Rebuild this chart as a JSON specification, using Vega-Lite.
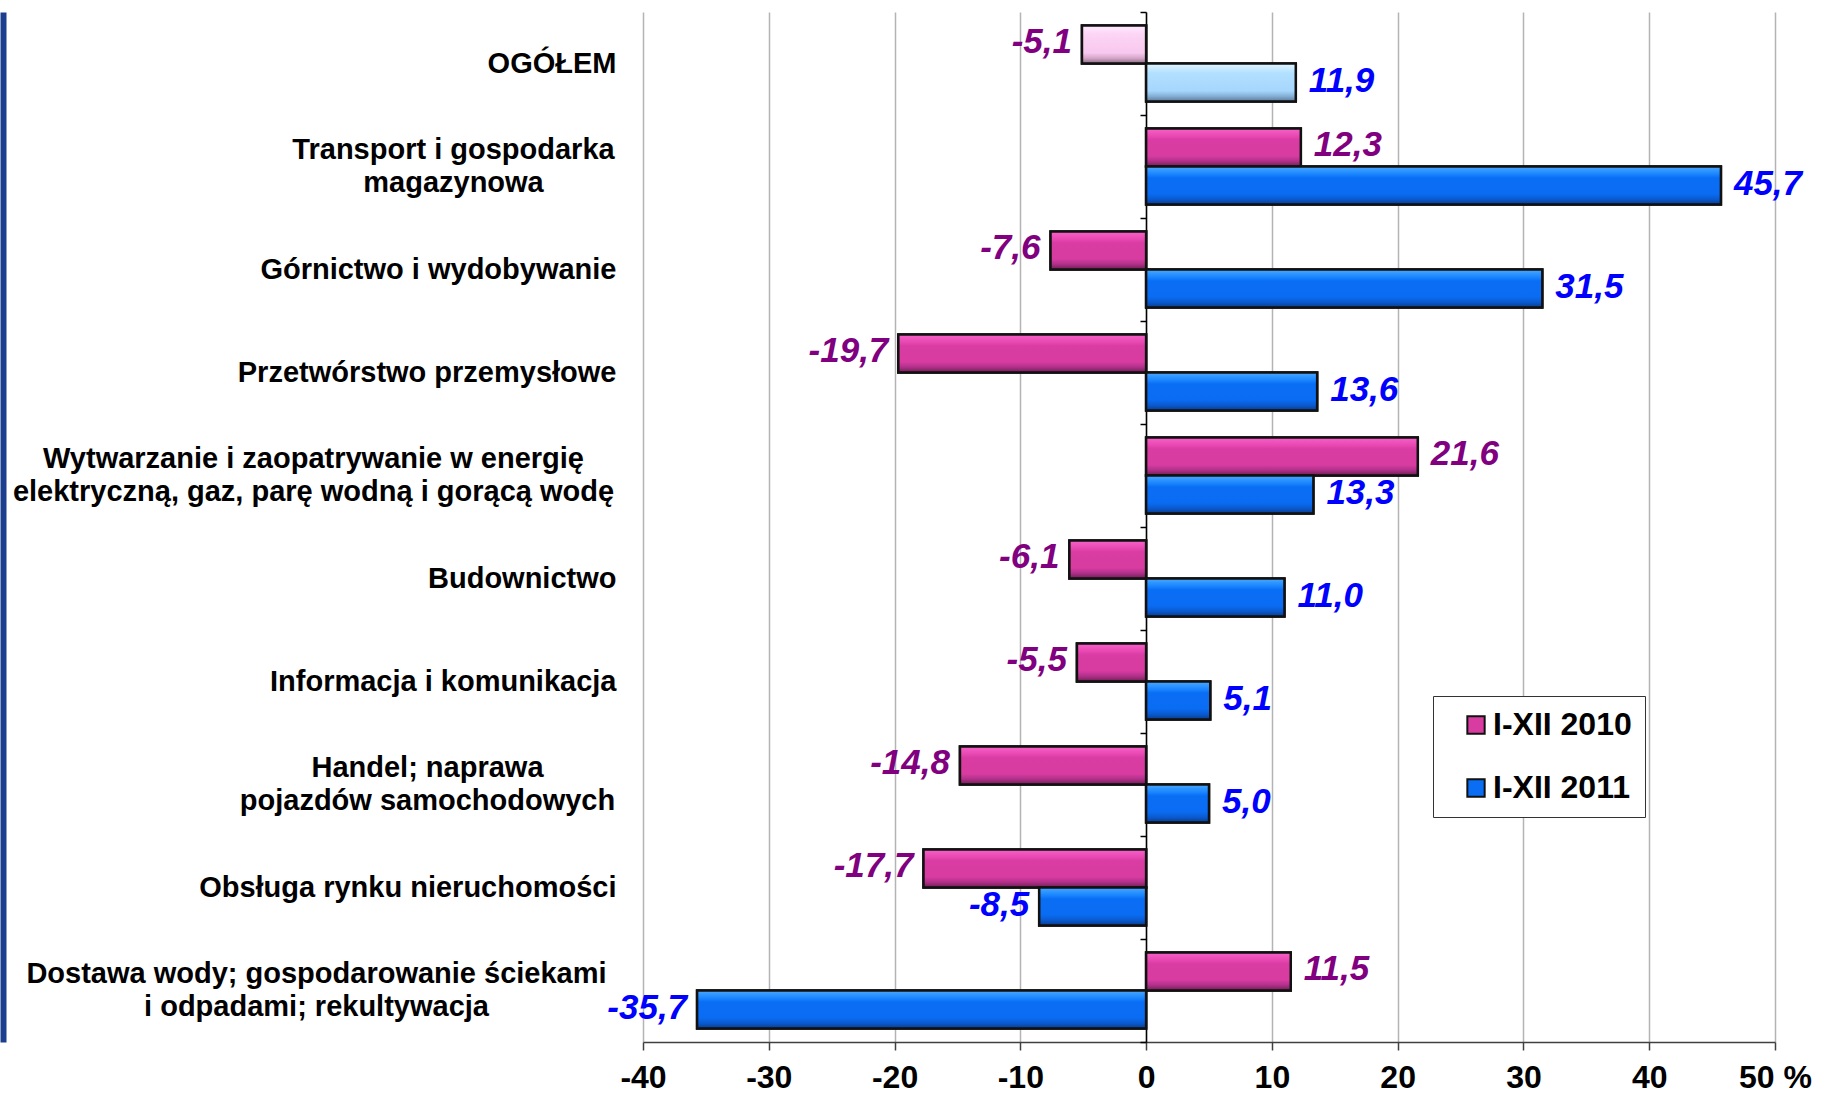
{
  "$schema": "https://vega.github.io/schema/vega-lite/v6.json",
  "autosize": {"type": "none"},
  "width": 1132,
  "height": 1030,
  "padding": {"left": 643, "top": 12, "right": 54, "bottom": 52},
  "background": "#ffffff",
  "config": {"view": {"stroke": null}, "font": "Liberation Sans"},
  "data": {"values": [
    {"cat": "OGÓŁEM", "series": "I-XII 2010", "value": -5.1},
    {"cat": "OGÓŁEM", "series": "I-XII 2011", "value": 11.9},
    {"cat": "Transport i gospodarka|magazynowa", "series": "I-XII 2010", "value": 12.3},
    {"cat": "Transport i gospodarka|magazynowa", "series": "I-XII 2011", "value": 45.7},
    {"cat": "Górnictwo i wydobywanie", "series": "I-XII 2010", "value": -7.6},
    {"cat": "Górnictwo i wydobywanie", "series": "I-XII 2011", "value": 31.5},
    {"cat": "Przetwórstwo przemysłowe", "series": "I-XII 2010", "value": -19.7},
    {"cat": "Przetwórstwo przemysłowe", "series": "I-XII 2011", "value": 13.6},
    {"cat": "Wytwarzanie i zaopatrywanie w energię|elektryczną, gaz, parę wodną i gorącą wodę", "series": "I-XII 2010", "value": 21.6},
    {"cat": "Wytwarzanie i zaopatrywanie w energię|elektryczną, gaz, parę wodną i gorącą wodę", "series": "I-XII 2011", "value": 13.3},
    {"cat": "Budownictwo", "series": "I-XII 2010", "value": -6.1},
    {"cat": "Budownictwo", "series": "I-XII 2011", "value": 11.0},
    {"cat": "Informacja i komunikacja", "series": "I-XII 2010", "value": -5.5},
    {"cat": "Informacja i komunikacja", "series": "I-XII 2011", "value": 5.1},
    {"cat": "Handel; naprawa|pojazdów samochodowych", "series": "I-XII 2010", "value": -14.8},
    {"cat": "Handel; naprawa|pojazdów samochodowych", "series": "I-XII 2011", "value": 5.0},
    {"cat": "Obsługa rynku nieruchomości", "series": "I-XII 2010", "value": -17.7},
    {"cat": "Obsługa rynku nieruchomości", "series": "I-XII 2011", "value": -8.5},
    {"cat": "Dostawa wody; gospodarowanie ściekami|i odpadami; rekultywacja", "series": "I-XII 2010", "value": 11.5},
    {"cat": "Dostawa wody; gospodarowanie ściekami|i odpadami; rekultywacja", "series": "I-XII 2011", "value": -35.7}
  ]},
  "transform": [
    {"calculate": "replace(replace(format(datum.value, '.1f'), '.', ','), '\u2212', '-')", "as": "lbl"}
  ],
  "encoding": {
    "x": {"field": "value", "type": "quantitative",
      "scale": {"domain": [-40, 50], "nice": false, "zero": false},
      "axis": {"values": [-40, -30, -20, -10, 0, 10, 20, 30, 40, 50], "title": null, "orient": "bottom",
        "grid": true, "gridColor": "#b4b4b4", "gridWidth": 1.5,
        "domain": true, "domainColor": "#404040", "domainWidth": 1.5,
        "ticks": true, "tickColor": "#404040", "tickSize": 8, "tickWidth": 1.5,
        "labels": true, "labelFont": "Liberation Sans", "labelFontWeight": "bold", "labelFontSize": 32, "labelColor": "#000000",
        "labelPadding": 12, "labelFlush": false, "labelOverlap": false,
        "labelExpr": "datum.value == 50 ? '50 %' : '' + datum.value"}},
    "yOffset": {"field": "series", "type": "nominal",
      "scale": {"domain": ["I-XII 2010", "I-XII 2011"], "paddingInner": 0, "paddingOuter": 0.355}}
  },
  "resolve": {"axis": {"y": "independent"}},
  "layer": [
    {
      "mark": {"type": "bar", "stroke": "#111111", "strokeWidth": 2.5},
      "encoding": {
        "y": {"field": "cat", "type": "nominal", "sort": null,
          "scale": {"paddingInner": 0, "paddingOuter": 0},
          "axis": {"orient": "left", "offset": 640, "title": null, "grid": false,
            "domain": true, "domainColor": "#1b3e8e", "domainWidth": 6,
            "ticks": false, "tickSize": 0,
            "labelFont": "Liberation Sans", "labelFontWeight": "bold", "labelFontSize": 29, "labelColor": "#000000",
            "labelLineHeight": 33, "labelLimit": 0, "labelOverlap": false,
            "labelExpr": "split(datum.label, '|')",
            "labelAlign": {"condition": {"test": "indexof(datum.value, '|') >= 0", "value": "center"}, "value": "right"},
            "labelOffset": {"condition": {"test": "indexof(datum.value, '|') >= 0", "value": -16.5}, "value": 0},
            "labelPadding": {"condition": [
              {"test": "datum.value == 'Transport i gospodarka|magazynowa'", "value": -450},
              {"test": "indexof(datum.value, 'Wytwarzanie') == 0", "value": -310},
              {"test": "indexof(datum.value, 'Handel') == 0", "value": -424},
              {"test": "indexof(datum.value, 'Dostawa') == 0", "value": -313}
            ], "value": -613}}},
        "color": {"field": "series", "type": "nominal",
          "scale": {"domain": ["I-XII 2010", "I-XII 2011"], "range": ["#d83ca0", "#0a6ef5"]},
          "legend": {"orient": "none", "legendX": 790, "legendY": 684, "title": null, "direction": "vertical",
            "symbolType": "square", "symbolSize": 300, "symbolStrokeColor": "#111111", "symbolStrokeWidth": 2,
            "labelFont": "Liberation Sans", "labelFontWeight": "bold", "labelFontSize": 32, "labelColor": "#000000",
            "labelExpr": "datum.label + '\u00a0\u00a0\u00a0'",
            "labelOffset": 1, "padding": 13, "symbolOffset": 14, "rowPadding": 31,
            "strokeColor": "#333333", "fillColor": "#ffffff"}}
      }
    },
    {
      "mark": {"type": "bar", "stroke": "#111111", "strokeWidth": 2.5},
      "encoding": {
        "y": {"field": "cat", "type": "nominal", "sort": null,
          "axis": {"orient": "left", "offset": -503, "title": null, "grid": false, "labels": false,
            "domain": true, "domainColor": "#000000", "domainWidth": 1.5,
            "ticks": true, "tickBand": "extent", "tickSize": 6, "tickColor": "#000000", "tickWidth": 1.5}},
        "fill": {"condition": [
          {"test": "datum.cat == 'OGÓŁEM' && datum.series == 'I-XII 2010'",
           "value": {"gradient": "linear", "x1": 0, "y1": 0, "x2": 0, "y2": 1, "stops": [
             {"offset": 0, "color": "#ffeaff"}, {"offset": 0.25, "color": "#fcd4f4"}, {"offset": 0.72, "color": "#f8c8ee"},
             {"offset": 0.86, "color": "#d4a6c8"}, {"offset": 1, "color": "#8a6a84"}]}},
          {"test": "datum.cat == 'OGÓŁEM'",
           "value": {"gradient": "linear", "x1": 0, "y1": 0, "x2": 0, "y2": 1, "stops": [
             {"offset": 0, "color": "#e2f7ff"}, {"offset": 0.25, "color": "#b2e0ff"}, {"offset": 0.72, "color": "#a6d6fd"},
             {"offset": 0.86, "color": "#84afd4"}, {"offset": 1, "color": "#5a7898"}]}},
          {"test": "datum.series == 'I-XII 2010'",
           "value": {"gradient": "linear", "x1": 0, "y1": 0, "x2": 0, "y2": 1, "stops": [
             {"offset": 0, "color": "#f862c8"}, {"offset": 0.2, "color": "#e848b2"}, {"offset": 0.3, "color": "#d93ca2"},
             {"offset": 0.72, "color": "#d83ca0"}, {"offset": 0.86, "color": "#b0308a"}, {"offset": 1, "color": "#6e1f52"}]}}
        ],
          "value": {"gradient": "linear", "x1": 0, "y1": 0, "x2": 0, "y2": 1, "stops": [
            {"offset": 0, "color": "#4aa8ff"}, {"offset": 0.2, "color": "#1a86ff"}, {"offset": 0.3, "color": "#0a6ef5"},
            {"offset": 0.72, "color": "#0a6cf2"}, {"offset": 0.86, "color": "#0a5ad0"}, {"offset": 1, "color": "#0a3c8c"}]}}
      }
    },
    {
      "transform": [{"filter": "datum.value >= 0"}],
      "mark": {"type": "text", "align": "left", "baseline": "middle", "dx": 13, "dy": -2,
        "font": "Liberation Sans", "fontWeight": "bold", "fontStyle": "italic", "fontSize": 35},
      "encoding": {
        "y": {"field": "cat", "type": "nominal", "sort": null, "axis": null},
        "text": {"field": "lbl", "type": "nominal"},
        "color": {"condition": {"test": "datum.series == 'I-XII 2010'", "value": "#800080"}, "value": "#0000ff"}
      }
    },
    {
      "transform": [{"filter": "datum.value < 0"}],
      "mark": {"type": "text", "align": "right", "baseline": "middle", "dx": -10, "dy": -2,
        "font": "Liberation Sans", "fontWeight": "bold", "fontStyle": "italic", "fontSize": 35},
      "encoding": {
        "y": {"field": "cat", "type": "nominal", "sort": null, "axis": null},
        "text": {"field": "lbl", "type": "nominal"},
        "color": {"condition": {"test": "datum.series == 'I-XII 2010'", "value": "#800080"}, "value": "#0000ff"}
      }
    }
  ]
}
